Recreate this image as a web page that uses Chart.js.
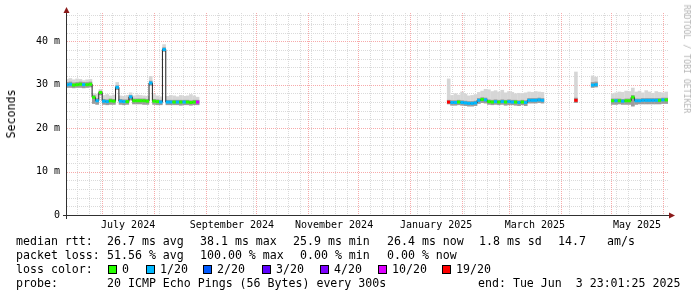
<!DOCTYPE html>
<html>
<head>
<meta charset="utf-8">
<script src="https://cdn.jsdelivr.net/npm/chart.js@4.4.1/dist/chart.umd.min.js"></script>
<style>
  html, body { margin: 0; padding: 0; background: #fff; }
  #wrap { position: relative; width: 697px; height: 297px; overflow: hidden; font-family: "DejaVu Sans Mono", monospace; }
  #chart { position: absolute; left: 0; top: 0; }
  .t { position: absolute; white-space: pre; font-size: 11.6px; line-height: 14px; color: #000; }
  .sw { position: absolute; width: 7px; height: 7px; border: 1px solid #000; }
  #ylab { position: absolute; left: 11px; top: 114px; transform: translate(-50%, -50%) rotate(-90deg); font-size: 11.6px; white-space: pre; color: #000; }
  #wm { position: absolute; left: 687px; top: 59px; transform: translate(-50%, -50%) rotate(90deg); font-size: 8.2px; white-space: pre; color: #b4b4b4; }
</style>
</head>
<body>
<div id="wrap">
  <canvas id="chart" width="697" height="297"></canvas>
  <div id="ylab">Seconds</div>
  <div id="wm">RRDTOOL / TOBI OETIKER</div>
</div>
<script>
// days since 2024-06-01, one sample every 2 days where there is data
const day = [
  9, 11, 13, 15, 17, 19, 21, 23, 25, 27, 29, 31, 33, 35, 37, 39, 41, 43, 45, 47,
  49, 51, 53, 55, 57, 59, 61, 63, 65, 67, 69, 71, 73, 75, 77, 79, 81, 83, 85, 87,
  237, 239, 241, 243, 245, 247, 249, 251, 253, 255, 257, 259, 261, 263, 265, 267,
  269, 271, 273, 275, 277, 279, 281, 283, 285, 287, 289, 291, 293,
  313,
  323, 325,
  335, 337, 339, 341, 343, 345, 347, 349, 351, 353, 355, 357, 359, 361, 363, 365, 367
];
// median rtt (ms)
const median = [
  30.0, 30.1, 29.9, 30.0, 30.1, 30.0, 30.0, 30.1, 27.1, 26.3, 28.2, 26.2, 26.1, 26.3, 26.2, 29.4, 26.2, 26.1, 26.1, 27.2,
  26.3, 26.3, 26.3, 26.3, 26.2, 30.4, 26.2, 26.1, 26.0, 38.1, 26.0, 26.0, 26.0, 26.0, 26.0, 26.0, 26.0, 25.9, 26.0, 26.0,
  26.0, 25.9, 25.9, 26.0, 25.9, 25.8, 25.7, 25.7, 25.8, 26.4, 26.6, 26.5, 26.1, 26.0, 26.1, 26.0,
  26.1, 26.0, 26.1, 26.0, 26.0, 25.9, 26.0, 25.9, 26.4, 26.4, 26.4, 26.5, 26.4,
  26.4,
  29.9, 30.0,
  26.3, 26.3, 26.3, 26.2, 26.3, 26.3, 27.1, 26.3, 26.3, 26.4, 26.4, 26.4, 26.4, 26.4, 26.4, 26.5, 26.5
];
// lost pings out of 20
const loss = [
  1, 1, 0, 0, 0, 1, 0, 0, 0, 1, 0, 1, 1, 0, 0, 1, 1, 1, 0, 1,
  0, 0, 0, 0, 0, 1, 0, 0, 1, 1, 1, 1, 0, 1, 0, 1, 0, 0, 0, 10,
  19, 1, 1, 0, 1, 1, 1, 1, 1, 1, 0, 1, 0, 0, 1, 0,
  1, 0, 1, 1, 0, 1, 0, 1, 1, 1, 1, 1, 1,
  19,
  1, 1,
  0, 1, 0, 1, 0, 0, 0, 1, 1, 1, 1, 1, 1, 1, 0, 1, 0
];
// smoke: fastest ping, upper edge of dense part, slowest ping (ms)
const pingMin = [
  29.3, 29.3, 29.2, 29.3, 29.3, 29.2, 29.3, 29.4, 25.6, 25.4, 27.6, 25.4, 25.3, 25.4, 25.4, 28.8, 25.4, 25.3, 25.4, 26.4,
  25.5, 25.5, 25.5, 25.4, 25.4, 29.8, 25.4, 25.3, 25.3, 37.6, 25.3, 25.3, 25.3, 25.3, 25.2, 25.3, 25.3, 25.2, 25.3, 25.3,
  25.5, 25.2, 25.2, 25.3, 25.2, 25.1, 25.0, 25.0, 25.1, 25.6, 25.8, 25.7, 25.4, 25.3, 25.4, 25.3,
  25.4, 25.2, 25.3, 25.3, 25.2, 25.1, 25.3, 25.1, 25.7, 25.7, 25.7, 25.8, 25.7,
  25.8,
  29.3, 29.4,
  25.4, 25.4, 25.5, 25.4, 25.4, 25.4, 25.0, 25.4, 25.5, 25.5, 25.5, 25.5, 25.5, 25.5, 25.5, 25.6, 25.6
];
const pingMid = [
  30.6, 30.7, 30.5, 30.6, 30.7, 30.6, 30.6, 30.7, 27.6, 26.9, 28.6, 26.7, 26.6, 26.8, 26.7, 29.8, 26.7, 26.6, 26.6, 27.6,
  26.8, 26.8, 26.8, 26.8, 26.7, 30.9, 26.7, 26.6, 26.5, 38.6, 26.5, 26.5, 26.5, 26.5, 26.5, 26.5, 26.5, 26.4, 26.5, 26.5,
  26.5, 26.4, 26.4, 26.5, 26.4, 26.3, 26.2, 26.2, 26.3, 26.9, 27.1, 27.0, 26.6, 26.5, 26.6, 26.5,
  26.6, 26.5, 26.6, 26.5, 26.5, 26.4, 26.5, 26.4, 26.9, 26.9, 26.9, 27.0, 26.9,
  27.0,
  30.6, 30.7,
  26.8, 26.8, 26.8, 26.7, 26.8, 26.8, 27.6, 26.8, 26.8, 26.9, 26.9, 26.9, 26.9, 26.9, 26.9, 27.0, 27.0
];
const pingMax = [
  31.3, 31.5, 31.2, 31.4, 31.3, 31.0, 31.2, 31.3, 28.0, 27.9, 29.0, 27.6, 27.8, 27.5, 27.7, 30.6, 27.5, 27.4, 27.6, 28.2,
  27.5, 27.7, 27.6, 27.5, 27.4, 32.0, 27.8, 27.5, 27.3, 39.3, 27.4, 27.6, 27.5, 27.3, 27.6, 27.4, 27.5, 27.8, 27.5, 27.2,
  31.4, 27.6, 28.0, 27.7, 28.4, 27.9, 27.5, 27.6, 27.8, 28.3, 28.6, 29.0, 28.9, 28.5, 28.7, 28.4,
  28.8, 28.2, 28.5, 28.3, 28.0, 28.1, 27.9, 28.2, 28.4, 28.3, 28.5, 28.4, 28.3,
  33.0,
  32.1, 31.8,
  28.0, 28.2, 28.4, 28.3, 28.6, 28.5, 29.3, 28.4, 28.6, 28.2, 28.7, 28.4, 28.1, 28.5, 28.3, 28.2, 28.4
];

const yTicks = [0, 10, 20, 30, 40];
const xLabelDays = [45.5, 107.5, 168.5, 229.5, 288.5, 349.5];
const xLabels = ['July 2024', 'September 2024', 'November 2024', 'January 2025', 'March 2025', 'May 2025'];
const monthStarts = [30, 61, 92, 122, 153, 183, 214, 245, 273, 304, 334, 365];

const lossSteps = [0, 1, 2, 3, 4, 10, 19];
const lossColors = ['#26ff00', '#00b8ff', '#0059ff', '#5e00ff', '#7e00ff', '#dd00ff', '#ff0000'];
const lossLabels = ['0', '1/20', '2/20', '3/20', '4/20', '10/20', '19/20'];

function lossColor(l) {
  let c = lossColors[0];
  lossSteps.forEach((s, i) => { if (l >= s) c = lossColors[i]; });
  return c;
}

const medianPts = day.map((d, i) => ({ x: d, y: median[i] }));

// rrdtool style dotted grid
const rrdGrid = {
  id: 'rrdGrid',
  beforeDatasetsDraw(chart) {
    const { ctx, chartArea: a, scales: { x, y } } = chart;
    ctx.save();
    ctx.lineWidth = 1;
    ctx.setLineDash([1, 1]);
    const hline = (v, col) => {
      const py = Math.round(y.getPixelForValue(v)) + 0.5;
      ctx.strokeStyle = col;
      ctx.beginPath(); ctx.moveTo(a.left, py); ctx.lineTo(a.right, py); ctx.stroke();
    };
    const vline = (v, col) => {
      const px = Math.round(x.getPixelForValue(v)) + 0.5;
      if (px < a.left || px > a.right) return;
      ctx.strokeStyle = col;
      ctx.beginPath(); ctx.moveTo(px, a.top); ctx.lineTo(px, a.bottom); ctx.stroke();
    };
    for (let v = 2; v <= y.max; v += 2) if (v % 10) hline(v, '#dadada');
    for (let d = 1; d <= x.max; d += 7) vline(d, '#dadada');
    yTicks.forEach(v => { if (v > 0) hline(v, '#f7aaaa'); });
    monthStarts.forEach(d => vline(d, '#f7aaaa'));
    ctx.restore();
  }
};

// axis lines with arrow heads
const rrdAxes = {
  id: 'rrdAxes',
  afterDatasetsDraw(chart) {
    const { ctx, chartArea: a } = chart;
    const ax = a.left - 0.5, ay = a.bottom + 0.5;
    ctx.save();
    ctx.strokeStyle = '#303030';
    ctx.lineWidth = 1;
    ctx.beginPath();
    ctx.moveTo(ax, a.bottom + 4); ctx.lineTo(ax, a.top - 2);
    ctx.moveTo(a.left - 4, ay); ctx.lineTo(a.right + 3, ay);
    ctx.stroke();
    ctx.fillStyle = '#8b1a1a';
    ctx.beginPath();
    ctx.moveTo(ax, a.top - 6); ctx.lineTo(ax - 3, a.top); ctx.lineTo(ax + 3, a.top); ctx.closePath(); ctx.fill();
    ctx.beginPath();
    ctx.moveTo(a.right + 7, ay); ctx.lineTo(a.right + 1, ay - 3); ctx.lineTo(a.right + 1, ay + 3); ctx.closePath(); ctx.fill();
    ctx.restore();
  }
};

new Chart(document.getElementById('chart'), {
  type: 'line',
  data: {
    datasets: [
      {
        type: 'line',
        data: medianPts,
        showLine: false,
        pointStyle: 'line',
        pointRadius: 1.7,
        pointHoverRadius: 1.7,
        pointBorderWidth: 3,
        pointBorderColor: c => lossColor(loss[c.dataIndex]),
        order: 0
      },
      {
        type: 'line',
        data: medianPts,
        stepped: 'middle',
        borderColor: '#202020',
        borderWidth: 1,
        pointRadius: 0,
        spanGaps: 2.5,
        fill: false,
        order: 1
      },
      {
        type: 'bar',
        data: day.map((d, i) => ({ x: d, y: [pingMin[i], pingMid[i]] })),
        backgroundColor: '#9c9c9c',
        grouped: false,
        barPercentage: 1.08,
        categoryPercentage: 1,
        order: 2
      },
      {
        type: 'bar',
        data: day.map((d, i) => ({ x: d, y: [pingMin[i], pingMax[i]] })),
        backgroundColor: '#d6d6d6',
        grouped: false,
        barPercentage: 1.08,
        categoryPercentage: 1,
        order: 3
      }
    ]
  },
  options: {
    responsive: false,
    devicePixelRatio: 1,
    animation: false,
    events: [],
    layout: { padding: { left: 0, top: 12, right: 29, bottom: 0 } },
    plugins: { legend: { display: false }, tooltip: { enabled: false } },
    scales: {
      x: {
        type: 'linear',
        min: 9,
        max: 368,
        offset: false,
        grid: { display: false, drawTicks: false },
        border: { display: false },
        afterBuildTicks: s => { s.ticks = xLabelDays.map(v => ({ value: v })); },
        afterFit: s => { s.height = 82; },
        ticks: {
          autoSkip: false, maxRotation: 0, minRotation: 0, padding: 4, color: '#000',
          font: { family: 'DejaVu Sans Mono', size: 10 },
          callback: (v, i) => xLabels[i]
        }
      },
      y: {
        min: 0,
        max: 46.5,
        grid: { display: false, drawTicks: false },
        border: { display: false },
        afterBuildTicks: s => { s.ticks = yTicks.map(v => ({ value: v })); },
        afterFit: s => { s.width = 67; },
        ticks: {
          padding: 7, color: '#000',
          font: { family: 'DejaVu Sans Mono', size: 10 },
          callback: v => (v === 0 ? '0' : v + ' m')
        }
      }
    }
  },
  plugins: [rrdGrid, rrdAxes]
});

// legend block under the graph
const wrap = document.getElementById('wrap');
function txt(x, cy, s) {
  const el = document.createElement('div');
  el.className = 't';
  el.style.left = x + 'px';
  el.style.top = (cy - 7) + 'px';
  el.textContent = s;
  wrap.appendChild(el);
}
const rows = [
  [241, [[16, 'median rtt:'], [107, '26.7 ms avg'], [200, '38.1 ms max'], [293, '25.9 ms min'], [387, '26.4 ms now'], [479, '1.8 ms sd'], [558, '14.7'], [607, 'am/s']]],
  [255, [[16, 'packet loss:'], [107, '51.56 % avg'], [200, '100.00 % max'], [300, '0.00 % min'], [387, '0.00 % now']]],
  [269, [[16, 'loss color:']]],
  [283, [[16, 'probe:'], [107, '20 ICMP Echo Pings (56 Bytes) every 300s'], [478, 'end: Tue Jun  3 23:01:25 2025']]]
];
rows.forEach(([cy, items]) => items.forEach(([x, s]) => txt(x, cy, s)));
const swatchX = [108, 146, 203, 262, 320, 378, 442];
lossLabels.forEach((lab, i) => {
  const sw = document.createElement('div');
  sw.className = 'sw';
  sw.style.left = swatchX[i] + 'px';
  sw.style.top = '265px';
  sw.style.background = lossColors[i];
  wrap.appendChild(sw);
  txt(swatchX[i] + 14, 269, lab);
});
</script>
</body>
</html>
